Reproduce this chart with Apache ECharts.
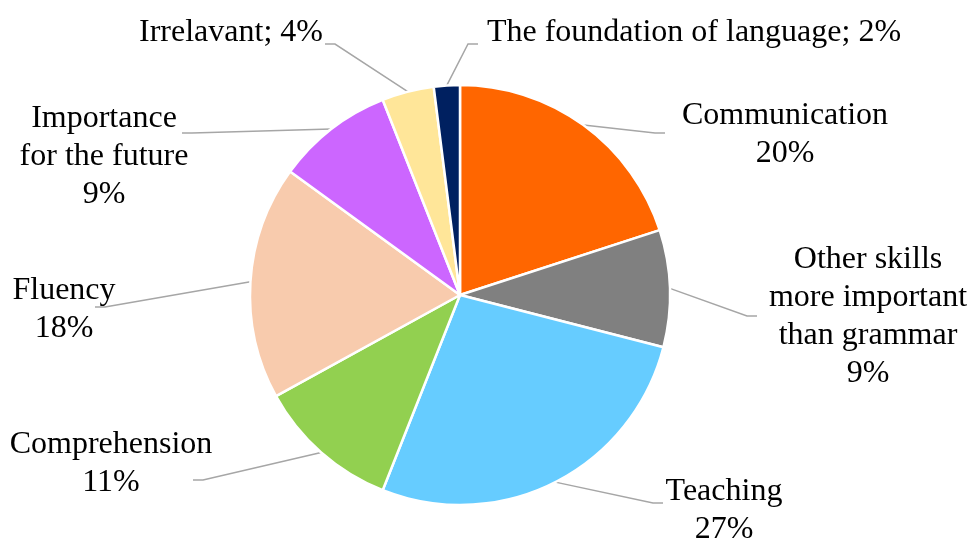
<!DOCTYPE html>
<html>
<head>
<meta charset="utf-8">
<script src="https://cdn.jsdelivr.net/npm/echarts@6/dist/echarts.min.js"></script>
<style>
  html, body { margin: 0; padding: 0; background: #fff; }
  #chart { width: 971px; height: 541px; }
</style>
</head>
<body>
<div id="chart"></div>
<script>
// data
const categories = ['Communication', 'Other skills more important than grammar', 'Teaching',
  'Comprehension', 'Fluency', 'Importance for the future', 'Irrelavant', 'The foundation of language'];
const values = [20, 9, 27, 11, 18, 9, 4, 2];

// label text wrapping and separators (as in the original)
const labelNames = ['Communication', 'Other skills\nmore important\nthan grammar', 'Teaching',
  'Comprehension', 'Fluency', 'Importance\nfor the future', 'Irrelavant', 'The foundation of language'];
const labelSep = ['\n', '\n', '\n', '\n', '\n', '\n', '; ', '; '];

const colors = ['#FF6600', '#808080', '#66CCFF', '#92D050', '#F8CBAD', '#CC66FF', '#FFE699', '#002060'];

// label centre x, y and leader line end x, y
const labelAnchor = [
  [785, 135, 665, 133],
  [868, 317, 757, 316],
  [724, 511, 663, 503],
  [111, 464, 193, 480],
  [64, 310, 95, 307],
  [104, 157, 182, 133],
  [231, 33, 325, 44],
  [694, 33, 478, 44]
];

const pieCenter = [460, 295];

const chart = echarts.init(document.getElementById('chart'));

chart.setOption({
  animation: false,
  series: [{
    type: 'pie',
    center: pieCenter,
    radius: 210,
    startAngle: 90,
    clockwise: true,
    avoidLabelOverlap: false,
    data: categories.map((name, i) => ({
      name: name,
      value: values[i],
      itemStyle: { color: colors[i] }
    })),
    itemStyle: {
      borderColor: '#ffffff',
      borderWidth: 2.5
    },
    label: {
      show: true,
      position: 'outside',
      fontFamily: '"Liberation Serif", "Times New Roman", serif',
      fontSize: 32,
      lineHeight: 38,
      color: '#000000',
      align: 'center',
      formatter: (p) => labelNames[p.dataIndex] + labelSep[p.dataIndex] + p.value + '%'
    },
    labelLine: {
      show: true,
      lineStyle: { color: '#A6A6A6', width: 1.5 }
    },
    emphasis: { disabled: true },
    labelLayout: (params) => {
      const a = labelAnchor[params.dataIndex];
      const start = params.labelLinePoints[0];
      const bendX = a[2] < pieCenter[0] ? a[2] + 10 : a[2] - 10;
      return {
        x: a[0],
        y: a[1],
        align: 'center',
        verticalAlign: 'middle',
        labelLinePoints: [start, [bendX, a[3]], [a[2], a[3]]]
      };
    }
  }]
});
</script>
</body>
</html>
